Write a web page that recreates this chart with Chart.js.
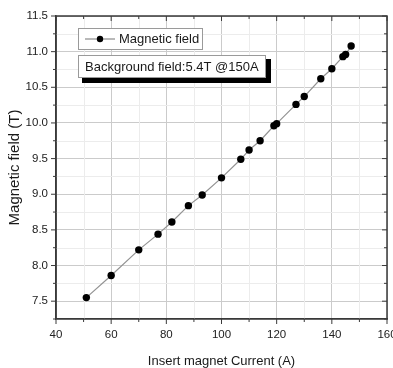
<!DOCTYPE html>
<html>
<head>
<meta charset="utf-8">
<script src="https://cdn.jsdelivr.net/npm/chart.js@4.4.1/dist/chart.umd.min.js"></script>
<style>
  html, body { margin: 0; padding: 0; background: #fff; }
  #wrap { width: 393px; height: 368px; }
</style>
</head>
<body>
<div id="wrap"><canvas id="fieldChart" width="393" height="368"></canvas></div>
<script>
// values
const currents = [51, 60, 70, 77, 82, 88, 93, 100, 107, 110, 114, 119, 120, 127, 130, 136, 140, 144, 145, 147];
const fields = [7.55, 7.86, 8.22, 8.44, 8.61, 8.84, 8.99, 9.23, 9.49, 9.62, 9.75, 9.96, 9.99, 10.26, 10.37, 10.62, 10.76, 10.93, 10.96, 11.08];

const xTicks = [40, 60, 80, 100, 120, 140, 160];
const yTicks = [7.5, 8.0, 8.5, 9.0, 9.5, 10.0, 10.5, 11.0, 11.5];
const xMinorTicks = [50, 70, 90, 110, 130, 150];
const yMinorTicks = [7.25, 7.75, 8.25, 8.75, 9.25, 9.75, 10.25, 10.75, 11.25];

const seriesLabel = 'Magnetic field';
const noteText = 'Background field:5.4T @150A';

const fontFamily = '"Liberation Sans", Arial, sans-serif';
const axisColor = '#3a3a3a';

// minor grid lines, drawn under the points
const minorGridPlugin = {
    id: 'minorGrid',
    beforeDatasetsDraw(chart) {
        const { ctx, chartArea } = chart;
        const xs = chart.scales.x, ys = chart.scales.y;
        ctx.save();
        ctx.strokeStyle = '#ececec';
        ctx.lineWidth = 1;
        xMinorTicks.forEach(v => {
            const px = Math.round(xs.getPixelForValue(v)) + 0.5;
            ctx.beginPath();
            ctx.moveTo(px, chartArea.top);
            ctx.lineTo(px, chartArea.bottom);
            ctx.stroke();
        });
        yMinorTicks.forEach(v => {
            const py = Math.round(ys.getPixelForValue(v)) + 0.5;
            ctx.beginPath();
            ctx.moveTo(chartArea.left, py);
            ctx.lineTo(chartArea.right, py);
            ctx.stroke();
        });
        ctx.restore();
    }
};

// frame, tick marks on four sides, and the two boxes
const framePlugin = {
    id: 'frame',
    afterDraw(chart) {
        const { ctx, chartArea } = chart;
        const { left, right, top, bottom } = chartArea;
        const xs = chart.scales.x, ys = chart.scales.y;
        ctx.save();
        ctx.strokeStyle = axisColor;
        ctx.lineWidth = 1.5;
        ctx.strokeRect(left, top, right - left, bottom - top);

        ctx.lineWidth = 1;
        const tick = (x1, y1, x2, y2) => {
            ctx.beginPath();
            ctx.moveTo(x1, y1);
            ctx.lineTo(x2, y2);
            ctx.stroke();
        };
        xTicks.forEach(v => {
            const px = xs.getPixelForValue(v);
            tick(px, bottom, px, bottom + 5);
            tick(px, top, px, top + 5);
        });
        xMinorTicks.forEach(v => {
            const px = xs.getPixelForValue(v);
            tick(px, bottom, px, bottom + 3);
            tick(px, top, px, top + 3);
        });
        yTicks.forEach(v => {
            const py = ys.getPixelForValue(v);
            tick(left - 5, py, left, py);
            tick(right - 5, py, right, py);
        });
        yMinorTicks.forEach(v => {
            const py = ys.getPixelForValue(v);
            tick(left - 3, py, left, py);
            tick(right - 3, py, right, py);
        });

        // legend box
        ctx.fillStyle = '#fff';
        ctx.fillRect(78, 28, 124, 21);
        ctx.strokeStyle = '#9a9a9a';
        ctx.strokeRect(78.5, 28.5, 124, 21);
        ctx.strokeStyle = '#8a8a8a';
        ctx.lineWidth = 1.2;
        tick(85, 39, 115, 39);
        ctx.fillStyle = '#000';
        ctx.beginPath();
        ctx.arc(100, 39, 3.2, 0, Math.PI * 2);
        ctx.fill();
        ctx.font = '13px ' + fontFamily;
        ctx.textBaseline = 'middle';
        ctx.fillStyle = '#1a1a1a';
        ctx.fillText(seriesLabel, 119, 39.5);

        // note box with black shadow
        ctx.fillStyle = '#000';
        ctx.fillRect(82, 59, 189, 24);
        ctx.fillStyle = '#fff';
        ctx.fillRect(78, 55, 188, 23);
        ctx.strokeStyle = '#9a9a9a';
        ctx.lineWidth = 1;
        ctx.strokeRect(78.5, 55.5, 187, 22);
        ctx.fillStyle = '#1a1a1a';
        ctx.fillText(noteText, 85, 67);
        ctx.restore();
    }
};

const ctx = document.getElementById('fieldChart').getContext('2d');
const fieldChart = new Chart(ctx, {
    type: 'scatter',
    data: {
        datasets: [{
            label: seriesLabel,
            data: currents.map((c, i) => ({ x: c, y: fields[i] })),
            showLine: true,
            borderColor: '#939393',
            borderWidth: 1.2,
            pointRadius: 3.7,
            pointBackgroundColor: '#000',
            pointBorderColor: '#000',
            pointBorderWidth: 0
        }]
    },
    options: {
        responsive: false,
        animation: false,
        devicePixelRatio: 1,
        layout: { padding: { left: 0, right: 6, top: 16, bottom: 0 } },
        plugins: {
            legend: { display: false },
            tooltip: { enabled: false }
        },
        scales: {
            x: {
                type: 'linear',
                min: 40,
                max: 160,
                afterBuildTicks: axis => { axis.ticks = xTicks.map(v => ({ value: v })); },
                afterFit: axis => {
                    axis.height = 49;
                    axis.paddingLeft = 0;
                    axis.paddingRight = 0;
                },
                grid: { color: '#cbcbcb', lineWidth: 1, drawTicks: false },
                border: { color: axisColor, width: 1.5 },
                ticks: {
                    padding: 9,
                    color: '#222',
                    font: { family: fontFamily, size: 11.5 },
                    maxRotation: 0
                },
                title: {
                    display: true,
                    text: 'Insert magnet Current (A)',
                    color: '#1a1a1a',
                    font: { family: fontFamily, size: 13, lineHeight: 1 },
                    padding: { top: 0, bottom: 0 }
                }
            },
            y: {
                type: 'linear',
                min: 7.25,
                max: 11.5,
                afterBuildTicks: axis => { axis.ticks = yTicks.map(v => ({ value: v })); },
                afterFit: axis => {
                    axis.width = 56;
                    axis.paddingTop = 0;
                    axis.paddingBottom = 0;
                },
                grid: { color: '#cbcbcb', lineWidth: 1, drawTicks: false },
                border: { color: axisColor, width: 1.5 },
                ticks: {
                    padding: 8,
                    color: '#222',
                    font: { family: fontFamily, size: 11.5 },
                    callback: v => Number(v).toFixed(1)
                },
                title: {
                    display: true,
                    text: 'Magnetic field (T)',
                    color: '#1a1a1a',
                    font: { family: fontFamily, size: 15, lineHeight: 1 },
                    padding: { top: 7, bottom: 0 }
                }
            }
        }
    },
    plugins: [minorGridPlugin, framePlugin]
});
</script>
</body>
</html>
